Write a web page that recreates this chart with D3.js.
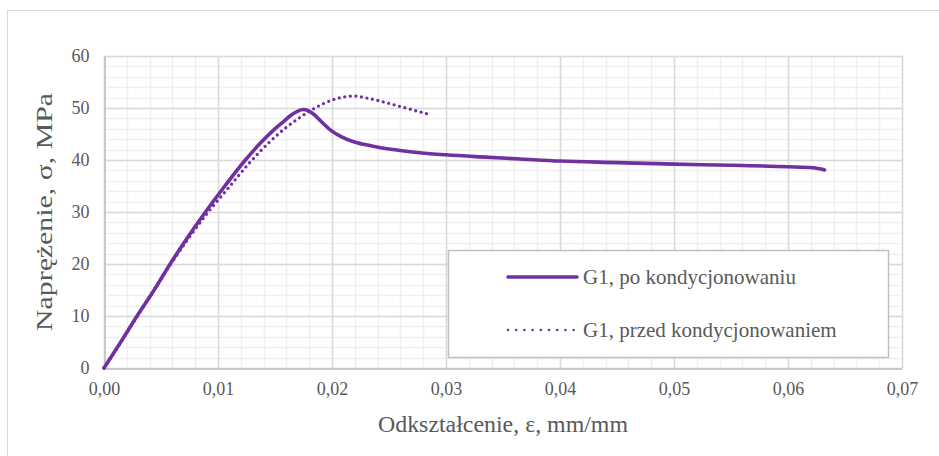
<!DOCTYPE html>
<html><head><meta charset="utf-8">
<script src="https://cdn.jsdelivr.net/npm/d3@7"></script>
<style>body{margin:0;background:#fff;} svg{display:block;}</style>
</head><body>
<svg id="c" width="939" height="456"></svg>
<script>
// Series: po kondycjonowaniu (solid)
const strainPo = [0,0.0015,0.0029,0.0044,0.0058,0.0073,0.0089,0.0106,0.0124,0.0137,0.0148,0.0157,0.0164,0.0170,0.0175,0.0179,0.0184,0.0191,0.0199,0.0208,0.0219,0.0235,0.025,0.0277,0.03,0.033,0.0365,0.04,0.045,0.05,0.055,0.06,0.0622,0.0632];
const stressPo = [0,5.1,10.0,15.0,20.0,25.0,30.0,35.0,40.0,43.2,45.6,47.3,48.6,49.4,49.7,49.5,48.8,47.3,45.7,44.5,43.5,42.7,42.1,41.4,41.0,40.6,40.2,39.8,39.5,39.2,39.0,38.7,38.5,38.1];
// Series: przed kondycjonowaniem (dotted)
const strainPrzed = [0,0.0015,0.0029,0.0058,0.0090,0.0109,0.0127,0.0145,0.0160,0.0172,0.0182,0.0192,0.0204,0.0219,0.0233,0.0248,0.0263,0.0283];
const stressPrzed = [0,5.0,9.9,19.8,29.6,34.6,39.3,43.4,46.3,48.2,49.6,50.8,51.8,52.3,51.8,51.0,50.1,48.9];
const xTicks = [0,0.01,0.02,0.03,0.04,0.05,0.06,0.07];
const yTicks = [0,10,20,30,40,50,60];
const seriesNames = ["G1, po kondycjonowaniu","G1, przed kondycjonowaniem"];
const xTitle = "Odkształcenie, ε, mm/mm";
const yTitle = "Naprężenie, σ, MPa";

const svg = d3.select("#c");
const color = "#7030a0";
const txt = "#595959";
const font = "'Liberation Serif','Times New Roman',serif";

svg.append("rect").attr("x",7.5).attr("y",10.5).attr("width",1000).attr("height",600)
  .attr("fill","#fff").attr("stroke","#d9d9d9").attr("stroke-width",1);

const x = d3.scaleLinear().domain([0,0.07]).range([104,902]);
const y = d3.scaleLinear().domain([0,60]).range([368,56]);

// minor gridlines
const xMinor = d3.range(0,0.0701,0.002);
const yMinor = d3.range(0,60.01,2);
const g = svg.append("g");
g.selectAll(".xm").data(xMinor).enter().append("line")
  .attr("x1",d=>Math.round(x(d))+0.5).attr("x2",d=>Math.round(x(d))+0.5)
  .attr("y1",y(60)).attr("y2",y(0)).attr("stroke","#f0f0f0").attr("stroke-width",1.5);
g.selectAll(".ym").data(yMinor).enter().append("line")
  .attr("y1",d=>Math.round(y(d))+0.5).attr("y2",d=>Math.round(y(d))+0.5)
  .attr("x1",x(0)).attr("x2",x(0.07)).attr("stroke","#f0f0f0").attr("stroke-width",1.5);
// major gridlines
g.selectAll(".xM").data(xTicks).enter().append("line")
  .attr("x1",d=>Math.round(x(d))+0.5).attr("x2",d=>Math.round(x(d))+0.5)
  .attr("y1",y(60)).attr("y2",y(0)).attr("stroke","#d9d9d9").attr("stroke-width",1.5);
g.selectAll(".yM").data(yTicks).enter().append("line")
  .attr("y1",d=>Math.round(y(d))+0.5).attr("y2",d=>Math.round(y(d))+0.5)
  .attr("x1",x(0)).attr("x2",x(0.07)).attr("stroke","#d9d9d9").attr("stroke-width",1.5);

// axes
const fmt = d => d3.format(".2f")(d).replace(".",",");
const xAxis = svg.append("g").attr("transform",`translate(0,${Math.round(y(0))+0.5})`)
  .call(d3.axisBottom(x).tickValues(xTicks).tickFormat(fmt).tickSize(0).tickPadding(14));
const yAxis = svg.append("g").attr("transform",`translate(${Math.round(x(0))+0.5},0)`)
  .call(d3.axisLeft(y).tickValues(yTicks).tickFormat(d3.format("d")).tickSize(0).tickPadding(15));
[xAxis,yAxis].forEach(a=>{
  a.select(".domain").attr("stroke","#bfbfbf").attr("stroke-width",1.5);
  a.selectAll("text").attr("fill",txt).style("font-family",font).style("font-size","18px");
});

// lines
const line = d3.line().x(d=>x(d[0])).y(d=>y(d[1])).curve(d3.curveMonotoneX);
const dPo = strainPo.map((v,i)=>[v,stressPo[i]]);
const dPrzed = strainPrzed.map((v,i)=>[v,stressPrzed[i]]);
svg.append("path").attr("d",line(dPrzed)).attr("fill","none").attr("stroke",color)
  .attr("stroke-width",3.3).attr("stroke-linecap","round").attr("stroke-dasharray","0 5.6");
svg.append("path").attr("d",line(dPo)).attr("fill","none").attr("stroke",color)
  .attr("stroke-width",3.6).attr("stroke-linecap","round").attr("stroke-linejoin","round");

// titles
svg.append("text").attr("x",503).attr("y",432).attr("text-anchor","middle")
  .attr("textLength",250).attr("lengthAdjust","spacingAndGlyphs")
  .attr("fill",txt).style("font-family",font).style("font-size","24px").text(xTitle);
svg.append("text").attr("transform","translate(52,212) rotate(-90)").attr("text-anchor","middle")
  .attr("textLength",238).attr("lengthAdjust","spacingAndGlyphs")
  .attr("fill",txt).style("font-family",font).style("font-size","24px").text(yTitle);

// legend
const lg = svg.append("g");
lg.append("rect").attr("x",448.5).attr("y",250.5).attr("width",440).attr("height",107)
  .attr("fill","#fff").attr("stroke","#bfbfbf").attr("stroke-width",1.5);
const ly = [277,330];
lg.append("line").attr("x1",508).attr("x2",577).attr("y1",ly[0]).attr("y2",ly[0])
  .attr("stroke",color).attr("stroke-width",3.6).attr("stroke-linecap","round");
lg.append("line").attr("x1",508).attr("x2",575).attr("y1",ly[1]).attr("y2",ly[1])
  .attr("stroke",color).attr("stroke-width",2.6).attr("stroke-linecap","round").attr("stroke-dasharray","0 8.2");
lg.selectAll(".lt").data(seriesNames).enter().append("text")
  .attr("x",583).attr("y",(d,i)=>ly[i]).attr("dy","0.35em")
  .attr("fill",txt).style("font-family",font).style("font-size","21px").text(d=>d);
</script>
</body></html>
